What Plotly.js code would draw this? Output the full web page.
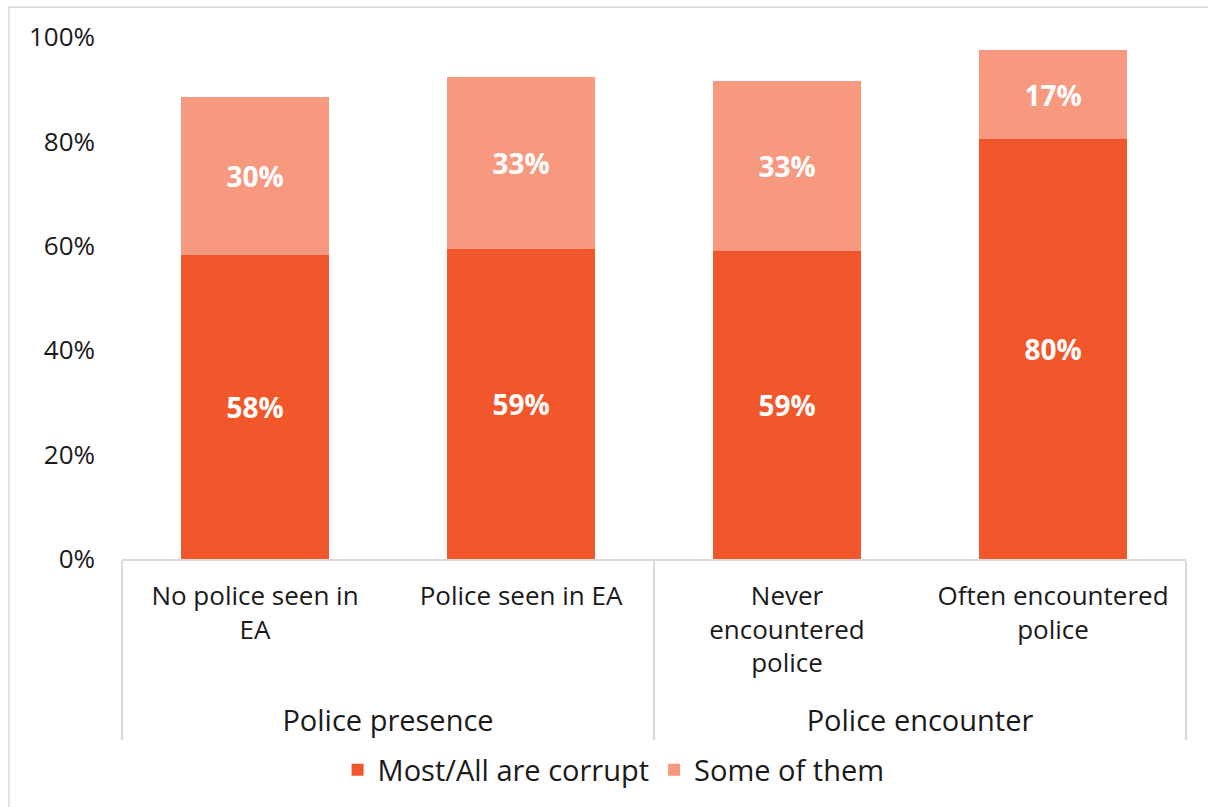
<!DOCTYPE html>
<html>
<head>
<meta charset="utf-8">
<script src="https://cdn.plot.ly/plotly-3.0.1.min.js"></script>
<style>html,body{margin:0;padding:0;background:#fff;}#chart{width:1208px;height:807px;}</style>
</head>
<body>
<div id="chart"></div>
<script>
// Data
var groups = ['Police presence', 'Police presence', 'Police encounter', 'Police encounter'];
var categories = ['No police seen in<br>EA', 'Police seen in EA', 'Never<br>encountered<br>police', 'Often encountered<br>police'];
var mostAllCorrupt = [58.2, 59.4, 59.0, 80.4];
var someOfThem = [30.4, 33.0, 32.6, 17.1];
var seriesNames = ['Most/All are corrupt', 'Some of them'];
var yTickVals = [0, 20, 40, 60, 80, 100];

var FONT = 'Open Sans, sans-serif';
var W = 1208, H = 807;
var L = 122, R = 22, T = 37, B = 245;
var pw = W - L - R, ph = H - T - B;
function px(x) { return (x - L) / pw; }
function py(y) { return (H - B - y) / ph; }

// group labels drawn a little larger, with a spacer line so they sit below the category labels
var groupLabels = groups.map(function (g) { return '&nbsp;<br><span style="font-size:29px">' + g + '</span>'; });

var traces = [
  {
    type: 'bar', name: seriesNames[0],
    x: [groupLabels, categories], y: mostAllCorrupt,
    marker: {color: '#F1572A'},
    texttemplate: '%{y:.0f}%', textposition: 'inside', insidetextanchor: 'middle',
    textfont: {family: FONT, size: 28, color: '#ffffff', weight: 'bold'},
    constraintext: 'none', hoverinfo: 'skip'
  },
  {
    type: 'bar', name: seriesNames[1],
    x: [groupLabels, categories], y: someOfThem,
    marker: {color: '#F7997F'},
    texttemplate: '%{y:.0f}%', textposition: 'inside', insidetextanchor: 'middle',
    textfont: {family: FONT, size: 28, color: '#ffffff', weight: 'bold'},
    constraintext: 'none', hoverinfo: 'skip'
  }
];

var layout = {
  width: W, height: H,
  margin: {l: L, r: R, t: T, b: B, pad: 0},
  paper_bgcolor: '#ffffff', plot_bgcolor: '#ffffff',
  font: {family: FONT, size: 26, color: '#1a1a1a'},
  barmode: 'stack',
  bargap: 0.444,
  showlegend: true,
  legend: {
    orientation: 'h', x: 0.462, xanchor: 'center', y: py(774), yanchor: 'middle',
    font: {family: FONT, size: 29, color: '#1a1a1a'},
    traceorder: 'normal', itemwidth: 30
  },
  xaxis: {
    type: 'multicategory',
    showline: true, linecolor: '#D9D9D9', linewidth: 1.5,
    showdividers: true, dividercolor: '#D9D9D9', dividerwidth: 1.5,
    tickfont: {family: FONT, size: 26, color: '#1a1a1a'},
    ticks: '', ticklabelstandoff: 13,
    showgrid: false, zeroline: false, fixedrange: true
  },
  yaxis: {
    range: [0, 100],
    tickvals: yTickVals, ticktext: yTickVals.map(function (v) { return v + '%'; }),
    showgrid: false, zeroline: false, showline: false,
    ticks: '', ticklabelstandoff: 26,
    tickfont: {family: FONT, size: 26, color: '#1a1a1a'},
    fixedrange: true
  },
  shapes: [
    {
      type: 'rect', xref: 'paper', yref: 'paper',
      x0: px(9), x1: px(1230), y0: py(830), y1: py(7),
      line: {color: '#D9D9D9', width: 1.5}, fillcolor: 'rgba(0,0,0,0)', layer: 'below'
    }
  ]
};

Plotly.newPlot('chart', traces, layout, {displayModeBar: false, staticPlot: true});
</script>
</body>
</html>
